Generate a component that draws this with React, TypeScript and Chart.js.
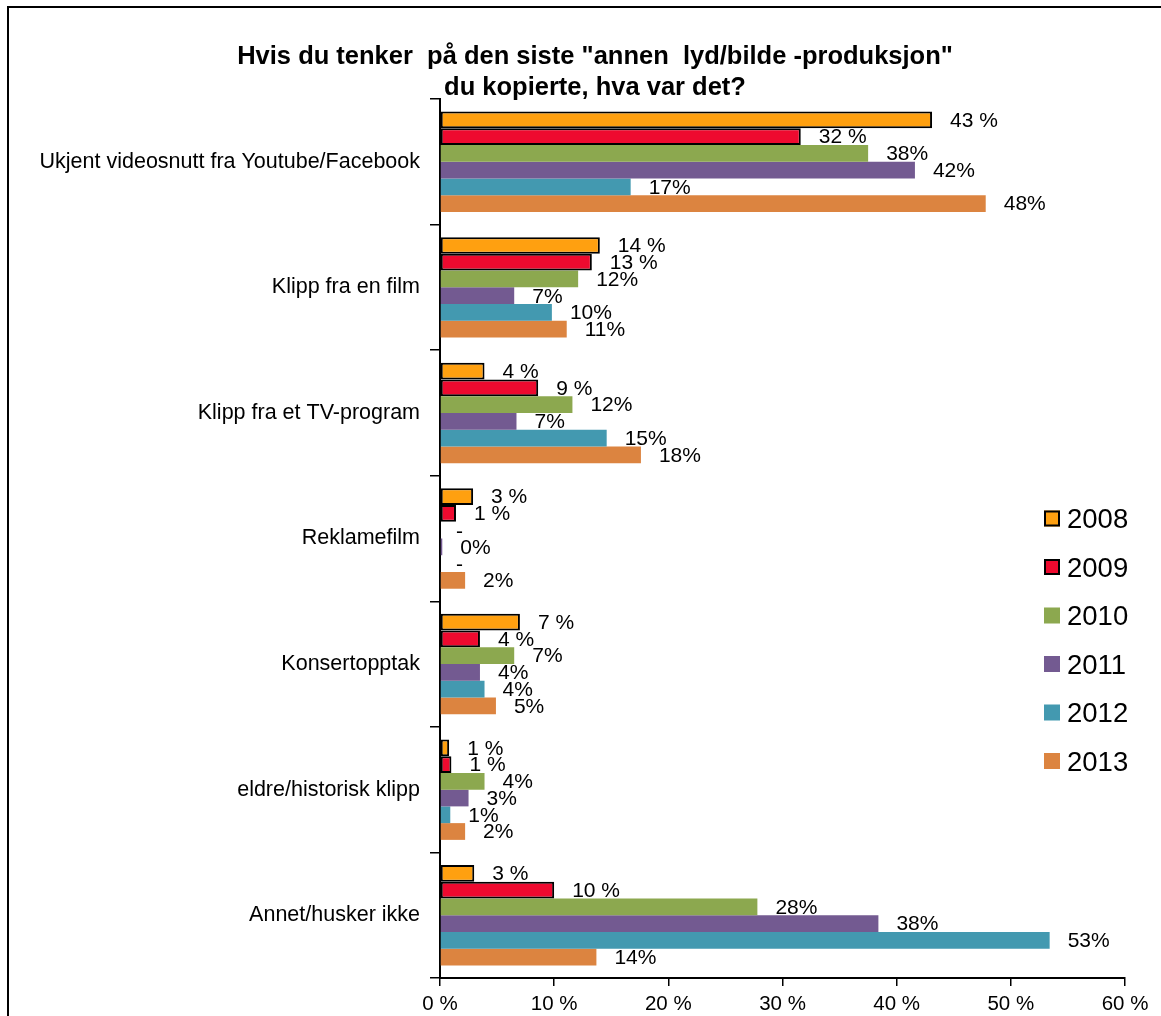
import React, { useEffect, useRef } from "react";
import { Chart, registerables } from "chart.js";

Chart.register(...registerables);

const titleLines = [
  'Hvis du tenker  på den siste "annen  lyd/bilde -produksjon"',
  "du kopierte, hva var det?",
];

const categories = [
  "Ukjent videosnutt fra Youtube/Facebook",
  "Klipp fra en film",
  "Klipp fra et TV-program",
  "Reklamefilm",
  "Konsertopptak",
  "eldre/historisk klipp",
  "Annet/husker ikke",
];

const seriesNames = ["2008", "2009", "2010", "2011", "2012", "2013"];

const values2008 = [43.1, 14.0, 3.9, 2.9, 7.0, 0.8, 3.0];
const values2009 = [31.6, 13.3, 8.6, 1.4, 3.5, 1.0, 10.0];
const values2010 = [37.5, 12.1, 11.6, null, 6.5, 3.9, 27.8];
const values2011 = [41.6, 6.5, 6.7, 0.2, 3.5, 2.5, 38.4];
const values2012 = [16.7, 9.8, 14.6, null, 3.9, 0.9, 53.4];
const values2013 = [47.8, 11.1, 17.6, 2.2, 4.9, 2.2, 13.7];

const seriesValues = [values2008, values2009, values2010, values2011, values2012, values2013];
const seriesColors = ["#FFA010", "#EE0A2F", "#8CA84F", "#735A91", "#4399B0", "#DC8440"];
const seriesOutlined = [true, true, false, false, false, false];
const labelSpaced = [true, true, false, false, false, false];

const xTicks = [0, 10, 20, 30, 40, 50, 60];

const FONT = "'Liberation Sans', Arial, sans-serif";

export default function App() {
  const canvasRef = useRef<HTMLCanvasElement | null>(null);

  useEffect(() => {
    const canvas = canvasRef.current;
    if (!canvas) return;

    const decorPlugin = {
      id: "decor",
      beforeDraw(chart: any) {
        const ctx = chart.ctx;
        ctx.save();
        ctx.fillStyle = "#fff";
        ctx.fillRect(0, 0, chart.width, chart.height);
        ctx.strokeStyle = "#000";
        ctx.lineWidth = 2;
        ctx.strokeRect(8, 7, 1400, 1400);
        ctx.restore();
      },
      afterDatasetsDraw(chart: any) {
        const ctx = chart.ctx;
        const xScale = chart.scales.x;
        const yScale = chart.scales.y;
        const catH = (yScale.bottom - yScale.top) / categories.length;
        const barH = (0.8 * catH) / seriesNames.length;
        ctx.save();
        ctx.font = `21px ${FONT}`;
        ctx.fillStyle = "#000";
        ctx.textAlign = "left";
        ctx.textBaseline = "middle";
        seriesValues.forEach((vals, j) => {
          vals.forEach((v, i) => {
            const y = yScale.getPixelForValue(i) - 0.4 * catH + (j + 0.5) * barH;
            if (v === null || v === undefined) {
              ctx.fillText("-", xScale.getPixelForValue(0) + 16, y + 2);
            } else {
              const x = xScale.getPixelForValue(v) + 18;
              const txt = labelSpaced[j] ? `${Math.round(v)} %` : `${Math.round(v)}%`;
              ctx.fillText(txt, x, y + 1);
            }
          });
        });
        ctx.restore();
      },
      afterDraw(chart: any) {
        const ctx = chart.ctx;
        ctx.save();
        // title
        ctx.fillStyle = "#000";
        ctx.font = `bold 25.5px ${FONT}`;
        ctx.textAlign = "center";
        ctx.textBaseline = "middle";
        ctx.fillText(titleLines[0], 595, 57);
        ctx.fillText(titleLines[1], 595, 88);
        // legend
        const lx = 1044;
        const ly0 = 518.5;
        const step = 48.5;
        seriesNames.forEach((name, j) => {
          const y = ly0 + j * step;
          ctx.fillStyle = seriesColors[j];
          ctx.fillRect(lx, y - 8, 16, 16);
          if (seriesOutlined[j]) {
            ctx.strokeStyle = "#000";
            ctx.lineWidth = 2;
            ctx.strokeRect(lx + 1, y - 7, 14, 14);
          }
          ctx.fillStyle = "#000";
          ctx.font = `27.5px ${FONT}`;
          ctx.textAlign = "left";
          ctx.textBaseline = "middle";
          ctx.fillText(name, 1067, y + 2);
        });
        ctx.restore();
      },
    };

    const chart = new Chart(canvas, {
      type: "bar",
      data: {
        labels: categories,
        datasets: seriesNames.map((name, j) => ({
          label: name,
          data: seriesValues[j],
          backgroundColor: seriesColors[j],
          borderColor: seriesOutlined[j] ? "#000" : seriesColors[j],
          borderWidth: seriesOutlined[j] ? 2 : 0,
          borderSkipped: false,
          categoryPercentage: 0.8,
          barPercentage: 1.0,
        })),
      },
      options: {
        indexAxis: "y",
        responsive: false,
        animation: false,
        devicePixelRatio: 1,
        layout: { padding: { top: 99, right: 36, bottom: 0, left: 0 } },
        plugins: {
          legend: { display: false },
          title: { display: false },
          tooltip: { enabled: false },
        },
        scales: {
          x: {
            type: "linear",
            min: 0,
            max: 60,
            afterBuildTicks(scale: any) {
              scale.ticks = xTicks.map((v) => ({ value: v }));
            },
            afterFit(scale: any) {
              scale.height = 38;
            },
            ticks: {
              color: "#000",
              font: { family: FONT, size: 20.5 },
              padding: 6,
              callback: (v: any) => `${v} %`,
              maxRotation: 0,
            },
            grid: {
              drawOnChartArea: false,
              drawTicks: true,
              tickLength: 8,
              color: "#000",
              lineWidth: 1.5,
            },
            border: { color: "#000", width: 2 },
          },
          y: {
            type: "category",
            afterFit(scale: any) {
              scale.width = 440;
            },
            ticks: {
              color: "#000",
              font: { family: FONT, size: 21.5 },
              padding: 10,
            },
            grid: {
              offset: true,
              drawOnChartArea: false,
              drawTicks: true,
              tickLength: 10,
              color: "#000",
              lineWidth: 1.5,
            },
            border: { color: "#000", width: 2 },
          },
        },
      },
      plugins: [decorPlugin],
    } as any);

    return () => {
      chart.destroy();
    };
  }, []);

  return (
    <div style={{ position: "fixed", left: 0, top: 0, width: 1161, height: 1016, background: "#fff" }}>
      <canvas ref={canvasRef} width={1161} height={1016} style={{ display: "block", width: 1161, height: 1016 }} />
    </div>
  );
}
